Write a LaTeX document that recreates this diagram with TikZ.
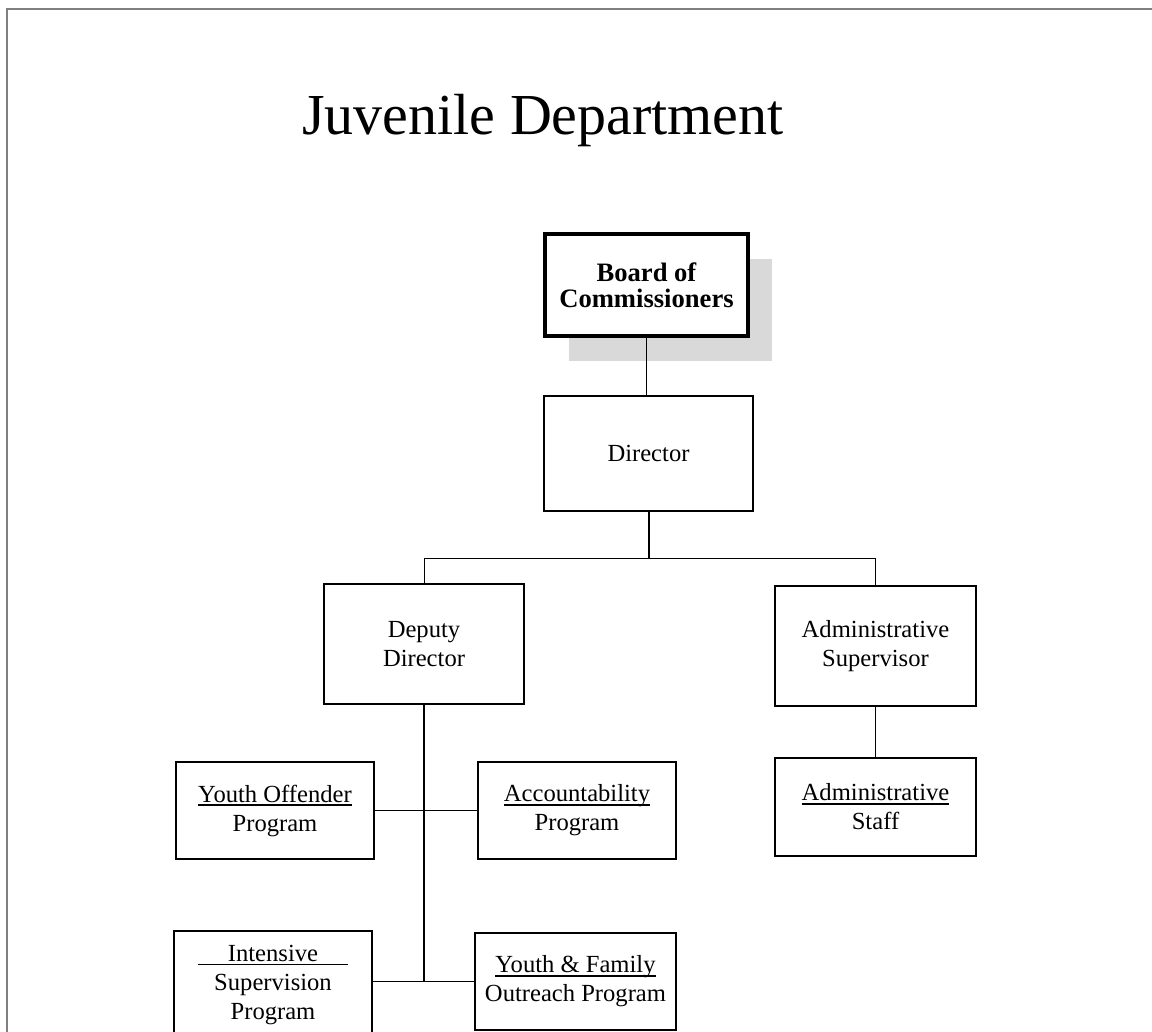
\documentclass[tikz,border=0pt]{standalone}
\usepackage{fontspec}
\setmainfont{Liberation Serif}
\usetikzlibrary{shadows}
\definecolor{shadowgray}{HTML}{D9D9D9}
\definecolor{framegray}{HTML}{7F7F7F}
\newcommand{\ulword}[1]{\setbox0\hbox{#1}\rlap{\rule[-2pt]{\wd0}{0.9pt}}\box0}
\tikzset{
  unit/.style={draw, line width=1pt, fill=white, minimum width=99pt, align=center, inner sep=0pt, font=\fontsize{12.3}{14.5}\selectfont},
  thin link/.style={line width=0.5pt},
  thick link/.style={line width=1pt},
}
\begin{document}
\begin{tikzpicture}[x=0.5pt, y=-0.5pt]
\useasboundingbox (0,0) rectangle (1152,1032);

% Frame
\draw[framegray, line width=1pt] (7,1032) -- (7,9.5) -- (1152,9.5);

% Title
\node[anchor=base, font=\fontsize{29}{34}\selectfont] (title) at (543,135) {Juvenile Department};

% Top of the chart
\node[unit, line width=1.75pt, minimum width=101.5pt, minimum height=51pt,
      font=\fontsize{13.3}{13}\selectfont\bfseries,
      drop shadow={shadow xshift=12pt, shadow yshift=-12.5pt, fill=shadowgray, opacity=1}]
      (board) at (646.5,285) {Board of\\Commissioners};
\node[unit, minimum width=104.5pt, minimum height=57.5pt] (director) at (648.5,453.5) {Director};

% Second level
\node[unit, minimum width=100pt, minimum height=60pt] (deputy) at (424,644) {Deputy\\Director};
\node[unit, minimum width=100.5pt, minimum height=60pt] (adminsup) at (875.5,646) {Administrative\\Supervisor};
\node[unit, minimum width=100.5pt, minimum height=49pt] (adminstaff) at (875.5,807) {\ulword{Administrative}\\Staff};

% Programs under the deputy
\node[unit, minimum height=48.5pt] (offender) at (275,810.5) {\ulword{Youth Offender}\\Program};
\node[unit, minimum height=48.5pt] (account) at (577,810.5) {\ulword{Accountability}\\Program};
\node[unit, minimum height=54pt] (intensive) at (273,985) {\ulword{\hspace{15pt}Intensive\hspace{15pt}}\\Supervision\\Program};
\node[unit, minimum width=100.5pt, minimum height=48.5pt] (outreach) at (575.5,981.5) {\ulword{Youth \& Family}\\Outreach Program};

% Connectors
\coordinate (split) at (648.5,558);
\draw[thin link] (board.south) -- (board.south |- director.north);
\draw[thick link] (director.south) -- (split);
\draw[thin link] (split) -| (deputy.north);
\draw[thin link] (split) -| (adminsup.north);
\draw[thin link] (adminsup.south) -- (adminstaff.north);
\draw[thick link] (deputy.south) -- (deputy.south |- outreach.west);
\draw[thin link] (offender.east) -- (account.west);
\draw[thin link] (intensive.east |- outreach.west) -- (outreach.west);
\end{tikzpicture}
\end{document}
